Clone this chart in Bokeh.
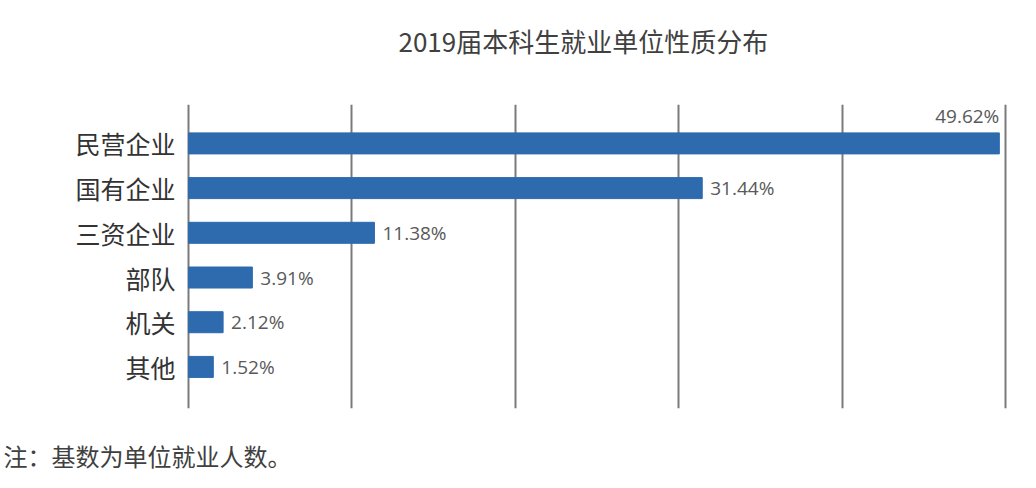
from bokeh.plotting import figure
from bokeh.models import Range1d, FixedTicker, Title, ColumnDataSource
from bokeh.embed import file_html
from bokeh.resources import INLINE

# data
categories = ["民营企业", "国有企业", "三资企业", "部队", "机关", "其他"]
shares = [49.62, 31.44, 11.38, 3.91, 2.12, 1.52]
grid_ticks = [0, 10, 20, 30, 40, 50]

FONT = "Noto Sans CJK SC"
NUMFONT = "Open Sans"
BAR = "#2e6aae"

n = len(categories)
ypos = [n - 1 - i for i in range(n)]
labels = ["%.2f%%" % v for v in shares]

p = figure(width=1020, height=472, output_backend="svg", toolbar_location=None,
           x_range=Range1d(-0.12, 50.12), y_range=Range1d(-0.93, n - 1 + 0.87),
           min_border_left=186, min_border_right=13, min_border_top=104,
           min_border_bottom=62)
p.outline_line_color = None
p.background_fill_color = "white"

p.hbar(y=ypos, right=shares, left=0, height=0.47, color=BAR)

# value labels: the widest bar gets its label above the bar end
inside = [v > 45 for v in shares]
src_out = ColumnDataSource(dict(x=[v for v, f in zip(shares, inside) if not f],
                                y=[y for y, f in zip(ypos, inside) if not f],
                                t=[t for t, f in zip(labels, inside) if not f]))
src_top = ColumnDataSource(dict(x=[v for v, f in zip(shares, inside) if f],
                                y=[y + 0.62 for y, f in zip(ypos, inside) if f],
                                t=[t for t, f in zip(labels, inside) if f]))
p.text(x="x", y="y", text="t", source=src_out, x_offset=8, text_baseline="middle",
       text_font_size="19px", text_color="#595959", text_font={"value": NUMFONT})
p.text(x="x", y="y", text="t", source=src_top, text_align="right", text_baseline="middle",
       text_font_size="19px", text_color="#595959", text_font={"value": NUMFONT})

p.xaxis.visible = False
p.xgrid.ticker = FixedTicker(ticks=grid_ticks)
p.xgrid.grid_line_color = "#7a7a7a"
p.xgrid.grid_line_width = 2
p.ygrid.grid_line_color = None

p.yaxis.ticker = FixedTicker(ticks=ypos)
p.yaxis.major_label_overrides = {y: c for y, c in zip(ypos, categories)}
p.yaxis.axis_line_color = None
p.yaxis.major_tick_line_color = None
p.yaxis.minor_tick_line_color = None
p.yaxis.major_label_standoff = 5
p.yaxis.major_label_text_font = FONT
p.yaxis.major_label_text_font_size = "25px"
p.yaxis.major_label_text_color = "#333333"

# spacers next to the frame, then the real title / note further out
p.add_layout(Title(text=" ", text_font_size="1px", standoff=43), "above")
p.add_layout(Title(text="2019届本科生就业单位性质分布", align="left", offset=212,
                   standoff=0, text_font=FONT, text_font_size="26px",
                   text_font_style="normal", text_color="#404040"), "above")

p.add_layout(Title(text=" ", text_font_size="1px", standoff=24), "below")
p.add_layout(Title(text="注：基数为单位就业人数。", align="left", offset=-183,
                   standoff=0, text_font=FONT, text_font_size="24px",
                   text_font_style="normal", text_color="#404040"), "below")

open("out.html", "w").write(file_html(p, INLINE))
